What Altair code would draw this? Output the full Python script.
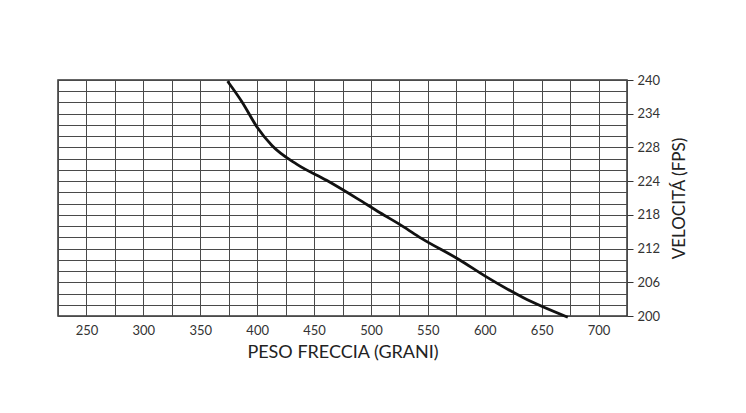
import altair as alt
import pandas as pd

# Curve (arrow weight in grains, speed on the linear 200-240 scale)
peso = [374, 387, 400, 413, 435, 461, 488, 508, 528, 544, 578, 600, 634, 673]
velocita = [239.8, 236.2, 232.0, 228.9, 225.7, 223.0, 219.9, 217.5, 215.2, 213.2, 209.5, 206.8, 203.1, 199.8]

# Tick labels as printed on the chart
x_labels = [250, 300, 350, 400, 450, 500, 550, 600, 650, 700]
y_labels = ["200", "206", "212", "218", "224", "228", "234", "240"]

X_MIN, X_MAX = 225, 725
Y_MIN, Y_MAX = 200, 240
N_Y_GRID = 21

df = pd.DataFrame({"peso": peso, "velocita": velocita})

x_grid_vals = list(range(X_MIN, X_MAX + 1, 25))
y_grid_vals = [Y_MIN + (Y_MAX - Y_MIN) * i / N_Y_GRID for i in range(N_Y_GRID + 1)]
y_label_vals = [Y_MIN + (Y_MAX - Y_MIN) * i / (len(y_labels) - 1) for i in range(len(y_labels))]

FONT = "Lato"
GRID = "#4a4a4a"

x_scale = alt.Scale(domain=[X_MIN, X_MAX], nice=False, zero=False)
y_scale = alt.Scale(domain=[Y_MIN, Y_MAX], nice=False, zero=False)

x_grid_axis = alt.Axis(
    values=x_grid_vals,
    orient="top",
    grid=True,
    gridColor=GRID,
    gridWidth=1,
    gridOpacity=1,
    ticks=False,
    domain=False,
    labels=False,
    title=None,
)

x_label_axis = alt.Axis(
    values=x_labels,
    orient="bottom",
    grid=False,
    ticks=False,
    domain=False,
    labelOverlap=False,
    labelFont=FONT,
    labelFontSize=13,
    labelColor="#333",
    labelPadding=8,
    title="PESO FRECCIA (GRANI)",
    titleFont=FONT,
    titleFontSize=18,
    titleFontWeight="normal",
    titleColor="#222",
    titlePadding=6,
)

y_grid_axis = alt.Axis(
    values=y_grid_vals,
    orient="left",
    grid=True,
    gridColor=GRID,
    gridWidth=1,
    gridOpacity=1,
    labels=False,
    ticks=False,
    domain=False,
    title=None,
)

label_expr = "%s[round((datum.value - %d) * %d / %d)]" % (
    str(y_labels), Y_MIN, len(y_labels) - 1, Y_MAX - Y_MIN
)

y_label_axis = alt.Axis(
    values=y_label_vals,
    orient="right",
    grid=False,
    domain=False,
    ticks=True,
    tickSize=6,
    tickColor="#333",
    labelOverlap=False,
    labelExpr=label_expr,
    labelFont=FONT,
    labelFontSize=13,
    labelColor="#333",
    labelPadding=4,
    title="VELOCITÁ (FPS)",
    titleFont=FONT,
    titleFontSize=17,
    titleFontWeight="normal",
    titleColor="#222",
    titleAngle=270,
    titleBaseline="top",
    titlePadding=12,
)

line = alt.Chart(df).mark_line(color="#111", strokeWidth=2.8, interpolate="monotone").encode(
    x=alt.X("peso:Q", scale=x_scale, axis=x_grid_axis),
    y=alt.Y("velocita:Q", scale=y_scale, axis=y_grid_axis),
)

labels_layer = alt.Chart(df).mark_point(opacity=0).encode(
    x=alt.X("peso:Q", scale=x_scale, axis=x_label_axis),
    y=alt.Y("velocita:Q", scale=y_scale, axis=y_label_axis),
)

chart = (
    alt.layer(line, labels_layer)
    .resolve_axis(x="independent", y="independent")
    .properties(
        width=569,
        height=236,
        padding={"left": 50, "top": 66, "right": 10, "bottom": 10},
        background="white",
    )
    .configure_view(stroke="#333", strokeWidth=1.5)
)

chart.save("out.html", embed_options={"renderer": "svg", "actions": False})
